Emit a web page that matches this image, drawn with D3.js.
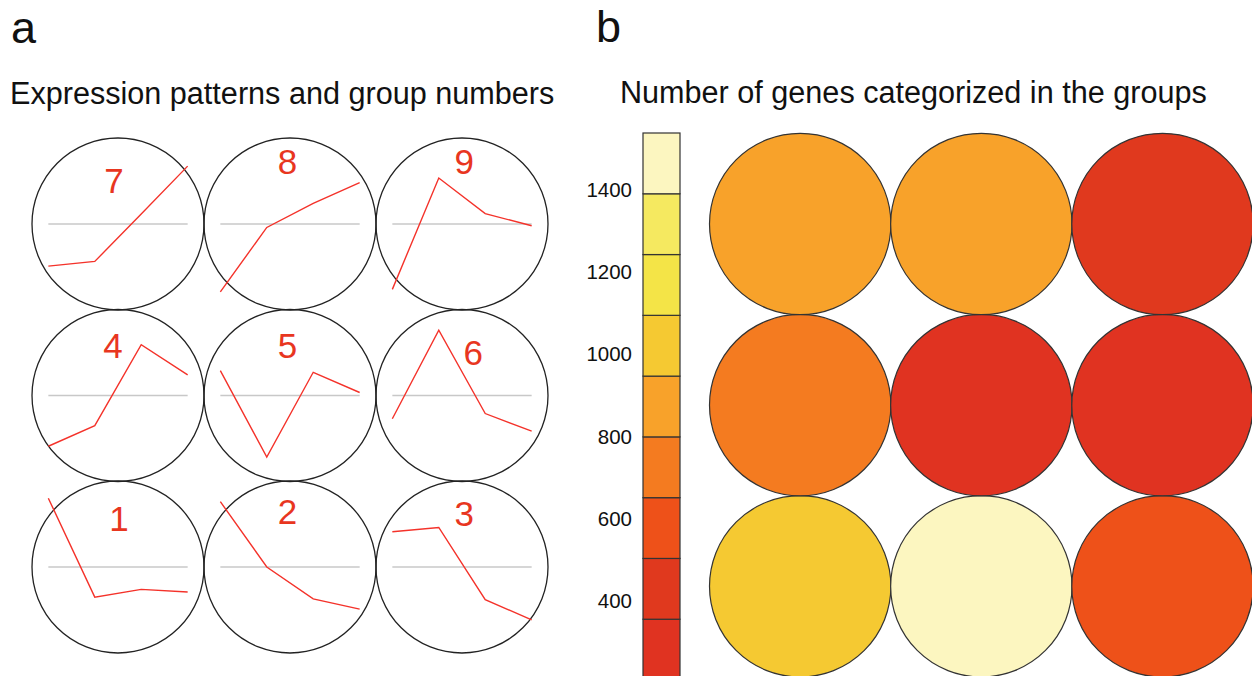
<!DOCTYPE html>
<html>
<head>
<meta charset="utf-8">
<script src="https://cdn.jsdelivr.net/npm/d3@7"></script>
<style>
  html, body { margin: 0; padding: 0; background: #fff; }
  svg { display: block; font-family: "Liberation Sans", Arial, Helvetica, sans-serif; }
</style>
</head>
<body>
<svg id="chart" width="1252" height="676"></svg>
<script>
// ---------------- DATA ----------------
const groups = [1, 2, 3, 4, 5, 6, 7, 8, 9];
const timePoints = [1, 2, 3, 4];
// relative expression per group at the four time points
const expression = [
  [0.80, -0.35, -0.26, -0.29],   // 1
  [0.76, 0.00, -0.37, -0.49],    // 2
  [0.41, 0.46, -0.38, -0.615],   // 3
  [-0.59, -0.35, 0.59, 0.24],    // 4
  [0.29, -0.715, 0.27, 0.035],   // 5
  [-0.27, 0.76, -0.21, -0.415],  // 6
  [-0.49, -0.435, 0.115, 0.673], // 7
  [-0.79, -0.04, 0.24, 0.48],    // 8
  [-0.76, 0.535, 0.12, -0.02]    // 9
];
// number of genes per group
const geneCounts = [1010, 1538, 580, 720, 209, 340, 875, 860, 430];
const colorTicks = [400, 600, 800, 1000, 1200, 1400];
const binColors = ["#e03321", "#e0391e", "#ee5119", "#f47b20", "#f8a22a",
                   "#f5c932", "#f4e447", "#f5e960", "#fcf6c0"];
// label placement inside each circle (time-point units, expression units)
const labelOffsets = [
  [2.52, 0.415], [2.445, 0.505], [2.55, 0.48],
  [2.39, 0.435], [2.445, 0.435], [2.74, 0.35],
  [2.415, 0.355], [2.445, 0.58], [2.55, 0.58]
];
const titleA = "Expression patterns and group numbers";
const titleB = "Number of genes categorized in the groups";

// ---------------- LAYOUT ----------------
const svg = d3.select("#chart");
const rowOf = g => 2 - Math.floor((g - 1) / 3);
const colOf = g => (g - 1) % 3;

// Panel letters and titles
svg.append("text").attr("x", 11).attr("y", 43).attr("font-size", 45).attr("fill", "#111").text("a");
svg.append("text").attr("x", 596).attr("y", 42).attr("font-size", 45).attr("fill", "#111").text("b");
svg.append("text").attr("x", 10).attr("y", 104).attr("font-size", 30.6).attr("fill", "#111").text(titleA);
svg.append("text").attr("x", 620).attr("y", 103).attr("font-size", 30.6).attr("fill", "#111").text(titleB);

// ---------- Panel a ----------
const rA = 86;
const colA = d3.scalePoint().domain([0, 1, 2]).range([118, 462]);
const rowA = d3.scalePoint().domain([0, 1, 2]).range([224, 567]);
const xIn = d3.scaleLinear().domain([1, 4]).range([-0.81 * rA, 0.81 * rA]);
const yIn = d3.scaleLinear().domain([-1, 1]).range([rA, -rA]);
const line = d3.line().x((d, i) => xIn(timePoints[i])).y(d => yIn(d));

const cellsA = svg.append("g").selectAll("g").data(groups).join("g")
  .attr("transform", g => `translate(${colA(colOf(g))},${rowA(rowOf(g))})`);
cellsA.append("circle").attr("r", rA).attr("fill", "none")
  .attr("stroke", "#222").attr("stroke-width", 1.3);
cellsA.append("line").attr("x1", xIn(1)).attr("x2", xIn(4)).attr("y1", yIn(0)).attr("y2", yIn(0))
  .attr("stroke", "#c8c8c8").attr("stroke-width", 1.3);
cellsA.append("path").attr("d", g => line(expression[g - 1])).attr("fill", "none")
  .attr("stroke", "#f4322a").attr("stroke-width", 1.4);
cellsA.append("text")
  .attr("x", g => xIn(labelOffsets[g - 1][0]))
  .attr("y", g => yIn(labelOffsets[g - 1][1]))
  .attr("text-anchor", "middle").attr("font-size", 35).attr("fill", "#e8361f")
  .text(g => g);

// ---------- Panel b ----------
const rB = 90.7;
const colB = d3.scalePoint().domain([0, 1, 2]).range([800.2, 1162.5]);
const rowB = d3.scalePoint().domain([0, 1, 2]).range([224, 586.3]);
const cMin = d3.min(geneCounts), cMax = d3.max(geneCounts);
const color = d3.scaleQuantize().domain([cMin, cMax]).range(binColors);

svg.append("g").selectAll("circle").data(groups).join("circle")
  .attr("cx", g => colB(colOf(g))).attr("cy", g => rowB(rowOf(g))).attr("r", rB)
  .attr("fill", g => color(geneCounts[g - 1]))
  .attr("stroke", "#333").attr("stroke-width", 1.2);

// colour bar
const yBar = d3.scaleLinear().domain([cMin, cMax]).range([680, 133]);
const barX = 643, barW = 37;
const edges = [cMin, ...color.thresholds(), cMax];
const bar = svg.append("g");
bar.selectAll("rect").data(binColors).join("rect")
  .attr("x", barX).attr("width", barW)
  .attr("y", (c, i) => yBar(edges[i + 1]))
  .attr("height", (c, i) => yBar(edges[i]) - yBar(edges[i + 1]))
  .attr("fill", c => c).attr("stroke", "#333").attr("stroke-width", 1.2);

const axis = d3.axisLeft(yBar).tickValues(colorTicks).tickSize(0).tickPadding(11)
  .tickFormat(d3.format("d"));
const ax = svg.append("g").attr("transform", `translate(${barX},0)`).call(axis);
ax.select(".domain").remove();
ax.selectAll("text").attr("font-size", 20.5).attr("fill", "#111")
  .attr("font-family", "\"Liberation Sans\", Arial, Helvetica, sans-serif");
</script>
</body>
</html>
